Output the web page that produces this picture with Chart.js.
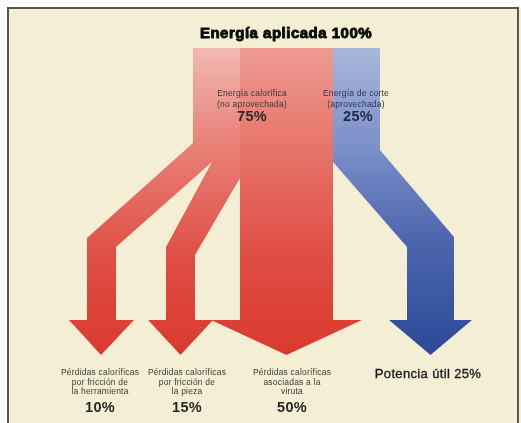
<!DOCTYPE html>
<html>
<head>
<meta charset="utf-8">
<script src="https://cdn.jsdelivr.net/npm/chart.js@4/dist/chart.umd.min.js"></script>
<style>
html,body{margin:0;padding:0;background:#ffffff;overflow:hidden}
canvas{display:block}
</style>
</head>
<body>
<canvas id="c" width="521" height="423"></canvas>
<script>
// ---------------- DATA ----------------
const totalLabel = 'Energía aplicada';
const totalValue = 100;
const splitLabels = [['Energía calorífica', '(no aprovechada)'], ['Energía de corte', '(aprovechada)']];
const splitValues = [75, 25];
const outputLabels = [
  ['Pérdidas caloríficas', 'por fricción de', 'la herramienta'],
  ['Pérdidas caloríficas', 'por fricción de', 'la pieza'],
  ['Pérdidas caloríficas', 'asociadas a la', 'viruta'],
  ['Potencia útil']
];
const outputValues = [10, 15, 50, 25];
const outputParent = [0, 0, 0, 1];

// ---------------- LAYOUT (positions / sizes, not data) ----------------
const K = 1.87;            // px per percent point in the input bar
const MIN_SHAFT = 29;      // minimum arrow shaft width
const X0 = 193;            // left edge of the input bar
const TOP_Y = 48, ARROW_Y = 320, TIP_Y = 355;
const shaftCenter = [101, 180.5, null, 430.5];         // null = straight arrow
const bendY = [[143, 162], [162, 178], [null, null], [162, 150]];      // [left edge, right edge]
const shaftTopY = [[238, 247], [247, 255], [null, null], [247, 237]];
const headExt = [18, 18, 29, 18];
const fillKind = ['light', 'light', 'main', 'blue'];
const splitLabelX = [252, 356];
const outputLabelX = [100, 187, 292, 428];
const BG = '#f3eed4';

const STOPS = {
  light: [[0, '#f1b9b3'], [0.3, '#e9837a'], [0.7, '#df4c42'], [1, '#da3a2f']],
  main:  [[0, '#ee9b93'], [0.3, '#e7776e'], [0.7, '#df4b41'], [1, '#da3a2f']],
  blue:  [[0, '#a9b7dc'], [0.33, '#7a8ec8'], [0.62, '#4d66ae'], [1, '#2b4999']]
};

// ---------------- GEOMETRY from values ----------------
function buildPolygons() {
  const polys = [];
  let cum = 0;
  outputValues.forEach((v, i) => {
    const s0 = Math.round(X0 + cum * K);
    cum += v;
    const s1 = Math.round(X0 + cum * K);
    const ext = headExt[i];
    let pts;
    if (shaftCenter[i] === null) {
      const cx = (s0 + s1) / 2;
      pts = [[s0, TOP_Y], [s1, TOP_Y], [s1, ARROW_Y], [s1 + ext, ARROW_Y], [cx, TIP_Y],
             [s0 - ext, ARROW_Y], [s0, ARROW_Y]];
    } else {
      const cx = shaftCenter[i];
      const w = Math.max(v * K, MIN_SHAFT);
      const L = Math.round(cx - w / 2), R = Math.round(cx + w / 2);
      pts = [[s0, TOP_Y], [s1, TOP_Y], [s1, bendY[i][1]], [R, shaftTopY[i][1]], [R, ARROW_Y],
             [R + ext, ARROW_Y], [cx, TIP_Y], [L - ext, ARROW_Y], [L, ARROW_Y],
             [L, shaftTopY[i][0]], [s0, bendY[i][0]]];
    }
    polys.push(pts.map(p => ({x: p[0], y: p[1]})));
  });
  return polys;
}

function makeGradient(chart, kind) {
  const ys = chart.scales.y;
  const g = chart.ctx.createLinearGradient(0, ys.getPixelForValue(TOP_Y), 0, ys.getPixelForValue(TIP_Y));
  STOPS[kind].forEach(([o, c]) => g.addColorStop(o, c));
  return g;
}

const polys = buildPolygons();
const datasets = polys.map((pts, i) => ({
  label: outputLabels[i].join(' '),
  data: pts,
  fill: 'shape',
  borderWidth: 0,
  borderColor: 'rgba(0,0,0,0)',
  pointRadius: 0,
  tension: 0,
  backgroundColor: (c) => c.chart.chartArea ? makeGradient(c.chart, fillKind[i]) : '#e05a50'
}));

// ---------------- TEXT / FRAME PLUGIN ----------------
const SMALL = '8.5px "Liberation Sans", Arial, sans-serif';
const PCT = 'bold 14.5px "Liberation Sans", Arial, sans-serif';

const decor = {
  id: 'decor',
  beforeDraw(chart) {
    const {ctx, width, height} = chart;
    ctx.save();
    ctx.fillStyle = '#ffffff';
    ctx.fillRect(0, 0, width, height);
    ctx.fillStyle = BG;
    ctx.fillRect(8, 8, width, height);
    ctx.strokeStyle = '#555555';
    ctx.lineWidth = 2;
    ctx.strokeRect(8, 8, 510, height + 20);
    ctx.restore();
  },
  afterDatasetsDraw(chart) {
    const {ctx} = chart;
    const xs = chart.scales.x, ys = chart.scales.y;
    const X = v => xs.getPixelForValue(v), Y = v => ys.getPixelForValue(v);
    ctx.save();
    ctx.textAlign = 'center';
    ctx.textBaseline = 'middle';
    const txt = (s, x, y, font, color, ls, stroke) => {
      ctx.font = font; ctx.fillStyle = color;
      ctx.letterSpacing = ls || '0px';
      ctx.fillText(s, X(x), Y(y));
      if (stroke) {
        ctx.strokeStyle = color; ctx.lineWidth = stroke; ctx.lineJoin = 'round';
        ctx.strokeText(s, X(x), Y(y));
      }
    };
    // title
    txt(totalLabel + ' ' + totalValue + '%', 286, 34, 'bold 15px "Liberation Sans", Arial, sans-serif', '#0a0a0a', '0.5px', 0.9);
    // split labels
    splitLabels.forEach((lines, i) => {
      const col = i === 1 ? '#2f3450' : '#3a3a3a';
      lines.forEach((l, j) => txt(l, splitLabelX[i], 94 + j * 10.5, SMALL, col, '0.2px'));
      txt(splitValues[i] + '%', splitLabelX[i] + (i === 1 ? 2 : 0), 116.5, PCT, i === 1 ? '#232a45' : '#2a2a2a', '0.3px');
    });
    // output labels
    outputLabels.forEach((lines, i) => {
      if (lines.length === 1) {
        txt(lines[0] + ' ' + outputValues[i] + '%', outputLabelX[i], 374, '13px "Liberation Sans", Arial, sans-serif', '#1a1a1a', '0.35px', 0.35);
      } else {
        lines.forEach((l, j) => txt(l, outputLabelX[i], 373 + j * 9.5, SMALL, '#3a3a3a', '0.2px'));
        txt(outputValues[i] + '%', outputLabelX[i], 408, PCT, '#262626', '0.3px');
      }
    });
    ctx.restore();
  }
};

new Chart(document.getElementById('c'), {
  type: 'line',
  data: {datasets},
  options: {
    responsive: false,
    devicePixelRatio: 1,
    animation: false,
    events: [],
    layout: {padding: 0},
    plugins: {legend: {display: false}, tooltip: {enabled: false}, title: {display: false}},
    elements: {point: {radius: 0}, line: {tension: 0}},
    scales: {
      x: {type: 'linear', min: 0, max: 521, display: false},
      y: {type: 'linear', min: 0, max: 423, reverse: true, display: false}
    }
  },
  plugins: [decor]
});
</script>
</body>
</html>
